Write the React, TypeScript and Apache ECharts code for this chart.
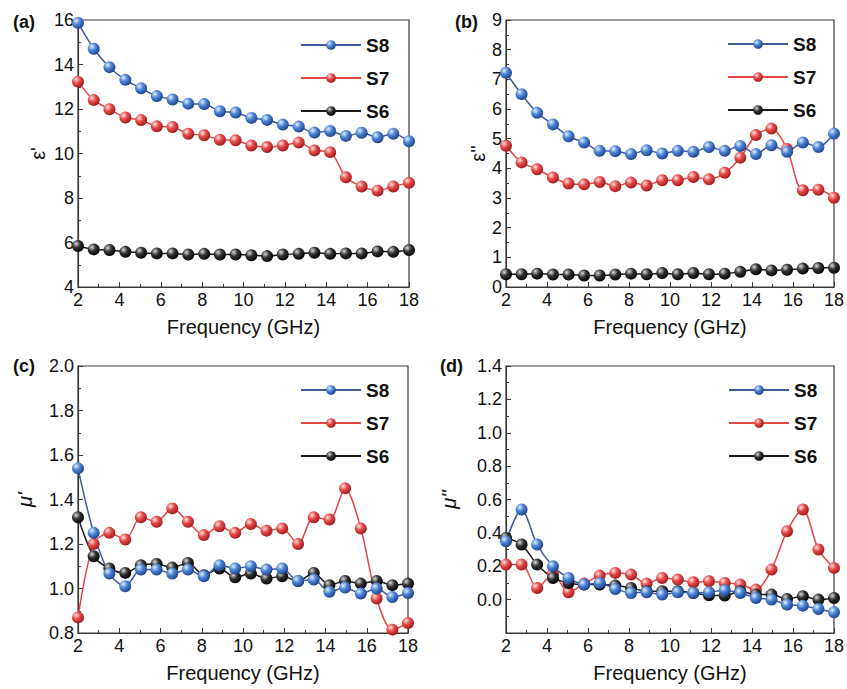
import React, { useEffect, useRef } from "react";
import * as echarts from "echarts";

const freq = [2, 2.76, 3.52, 4.29, 5.05, 5.81, 6.57, 7.33, 8.1, 8.86, 9.62, 10.38, 11.14, 11.9, 12.67, 13.43, 14.19, 14.95, 15.71, 16.48, 17.24, 18];

// (a) epsilon'
const epsRealS8 = [15.87, 14.71, 13.88, 13.31, 12.93, 12.58, 12.43, 12.24, 12.22, 11.9, 11.84, 11.6, 11.51, 11.3, 11.21, 10.94, 11.01, 10.79, 10.93, 10.73, 10.89, 10.55];
const epsRealS7 = [13.23, 12.4, 11.99, 11.62, 11.5, 11.22, 11.19, 10.89, 10.82, 10.62, 10.59, 10.36, 10.29, 10.36, 10.49, 10.14, 10.06, 8.93, 8.52, 8.33, 8.52, 8.68];
const epsRealS6 = [5.84, 5.69, 5.66, 5.58, 5.54, 5.51, 5.51, 5.46, 5.49, 5.46, 5.46, 5.43, 5.39, 5.46, 5.49, 5.54, 5.49, 5.51, 5.51, 5.6, 5.58, 5.66];

// (b) epsilon''
const epsImagS8 = [7.22, 6.5, 5.87, 5.48, 5.08, 4.87, 4.59, 4.58, 4.48, 4.61, 4.5, 4.59, 4.56, 4.72, 4.59, 4.75, 4.48, 4.78, 4.56, 4.87, 4.72, 5.17];
const epsImagS7 = [4.76, 4.2, 3.97, 3.69, 3.49, 3.46, 3.54, 3.4, 3.52, 3.42, 3.6, 3.6, 3.71, 3.63, 3.85, 4.36, 5.12, 5.34, 4.65, 3.26, 3.28, 3.01];
const epsImagS6 = [0.43, 0.43, 0.45, 0.42, 0.42, 0.39, 0.39, 0.42, 0.45, 0.43, 0.47, 0.43, 0.47, 0.43, 0.45, 0.51, 0.6, 0.56, 0.58, 0.62, 0.64, 0.65];

// (c) mu'
const muRealS8 = [1.54, 1.25, 1.067, 1.01, 1.085, 1.085, 1.067, 1.085, 1.055, 1.105, 1.09, 1.1, 1.085, 1.09, 1.034, 1.04, 0.985, 1.004, 0.977, 1.0, 0.962, 0.98];
const muRealS7 = [0.87, 1.2, 1.25, 1.22, 1.32, 1.3, 1.36, 1.3, 1.24, 1.28, 1.25, 1.29, 1.26, 1.27, 1.2, 1.32, 1.31, 1.45, 1.27, 0.955, 0.815, 0.845];
const muRealS6 = [1.32, 1.145, 1.09, 1.07, 1.105, 1.11, 1.094, 1.115, 1.06, 1.09, 1.05, 1.067, 1.045, 1.055, 1.034, 1.07, 1.015, 1.034, 1.022, 1.034, 1.015, 1.022];

// (d) mu''
const muImagS8 = [0.35, 0.54, 0.33, 0.2, 0.13, 0.09, 0.1, 0.064, 0.04, 0.044, 0.03, 0.044, 0.04, 0.044, 0.056, 0.04, 0.01, 0.0, -0.03, -0.036, -0.056, -0.076];
const muImagS7 = [0.21, 0.21, 0.07, 0.154, 0.044, 0.096, 0.144, 0.16, 0.15, 0.096, 0.13, 0.12, 0.104, 0.11, 0.1, 0.09, 0.06, 0.18, 0.41, 0.54, 0.3, 0.19];
const muImagS6 = [0.37, 0.33, 0.21, 0.13, 0.1, 0.09, 0.09, 0.084, 0.07, 0.05, 0.05, 0.05, 0.04, 0.026, 0.024, 0.05, 0.03, 0.03, 0.004, 0.02, 0.0, 0.01];

const sampleNames = ["S8", "S7", "S6"];
const panelLabels = ["(a)", "(b)", "(c)", "(d)"];
const yNames = ["ε'", "ε''", "μ'", "μ''"];
const xName = "Frequency (GHz)";

const FONT = "'Liberation Sans', Arial, sans-serif";

const sphere = (light: string, mid: string, dark: string) =>
  new echarts.graphic.RadialGradient(0.35, 0.32, 0.72, [
    { offset: 0, color: light },
    { offset: 0.45, color: mid },
    { offset: 1, color: dark },
  ]);

const styles: Record<string, { line: string; fill: any }> = {
  S8: { line: "#3f5aa3", fill: sphere("#e4eefc", "#4a84d6", "#1c3f88") },
  S7: { line: "#e04848", fill: sphere("#ffe4e4", "#e64848", "#9a1a1a") },
  S6: { line: "#1a1a1a", fill: sphere("#d8d8d8", "#333333", "#000000") },
};

const panelData: Record<string, number[]>[] = [
  { S8: epsRealS8, S7: epsRealS7, S6: epsRealS6 },
  { S8: epsImagS8, S7: epsImagS7, S6: epsImagS6 },
  { S8: muRealS8, S7: muRealS7, S6: muRealS6 },
  { S8: muImagS8, S7: muImagS7, S6: muImagS6 },
];

const grids = [
  { left: 78, top: 20, width: 331, height: 267 },
  { left: 506, top: 20, width: 331, height: 267 },
  { left: 78, top: 366, width: 330, height: 267 },
  { left: 506, top: 366, width: 331, height: 267 },
];

const yRanges = [
  { min: 4, max: 16, interval: 2, dec: 0, gap: 30, italic: false },
  { min: 0, max: 9, interval: 1, dec: 0, gap: 14, italic: false },
  { min: 0.8, max: 2.0, interval: 0.2, dec: 1, gap: 43, italic: true },
  { min: -0.2, max: 1.4, interval: 0.2, dec: 1, gap: 47, italic: true },
];

const legendPos = [
  { left: 295, top: 30 },
  { left: 722, top: 29 },
  { left: 295, top: 375 },
  { left: 723, top: 375 },
];

const labelPos = [
  { x: 13, y: 22 },
  { x: 455, y: 22 },
  { x: 13, y: 366 },
  { x: 440, y: 366 },
];

export default function App() {
  const ref = useRef<HTMLDivElement>(null);
  useEffect(() => {
    if (!ref.current) return;
    const chart = echarts.init(ref.current, undefined, { renderer: "svg" });
    const axisColor = "#3a3a3a";
    const xAxes = grids.map((_, i) => ({
      type: "value",
      gridIndex: i,
      min: 2,
      max: 18,
      interval: 2,
      name: xName,
      nameLocation: "middle",
      nameGap: 30,
      nameTextStyle: { fontFamily: FONT, fontSize: 20, color: "#111" },
      axisLine: { show: true, onZero: false, lineStyle: { color: axisColor, width: 1.2 } },
      axisTick: { show: true, inside: true, length: 5, lineStyle: { color: axisColor } },
      minorTick: { show: true, splitNumber: 2, length: 3, lineStyle: { color: axisColor } },
      axisLabel: { fontFamily: FONT, fontSize: 18, color: "#111", margin: 4 },
      splitLine: { show: false },
    }));
    const yAxes = grids.map((_, i) => {
      const r = yRanges[i];
      return {
        type: "value",
        gridIndex: i,
        min: r.min,
        max: r.max,
        interval: r.interval,
        name: yNames[i],
        nameLocation: "middle",
        nameGap: r.gap,
        nameTextStyle: {
          fontFamily: FONT,
          fontSize: 20,
          color: "#111",
          fontStyle: r.italic ? "italic" : "normal",
        },
        axisLine: { show: true, onZero: false, lineStyle: { color: axisColor, width: 1.2 } },
        axisTick: { show: true, inside: true, length: 5, lineStyle: { color: axisColor } },
        minorTick: { show: true, splitNumber: 2, length: 3, lineStyle: { color: axisColor } },
        axisLabel: {
          fontFamily: FONT,
          fontSize: 18,
          color: "#111",
          margin: 4,
          showMinLabel: i !== 3,
          formatter: (v: number) => v.toFixed(r.dec),
        },
        splitLine: { show: false },
      };
    });
    const series: any[] = [];
    grids.forEach((_, i) => {
      ["S7", "S6", "S8"].forEach((name) => {
        const st = styles[name];
        series.push({
          type: "line",
          name,
          xAxisIndex: i,
          yAxisIndex: i,
          data: freq.map((f, k) => [f, panelData[i][name][k]]),
          smooth: 0.3,
          symbol: "circle",
          symbolSize: 12,
          showSymbol: true,
          lineStyle: { color: st.line, width: 1.5 },
          itemStyle: { color: st.fill, borderWidth: 0 },
          clip: true,
        });
      });
    });
    const legends = legendPos.map((p) => ({
      orient: "vertical",
      left: p.left,
      top: p.top,
      data: sampleNames,
      itemWidth: 60,
      itemHeight: 12,
      itemGap: 13,
      textStyle: { fontFamily: FONT, fontSize: 19, fontWeight: "bold", color: "#111", lineHeight: 20 },
      selectedMode: false,
    }));
    const graphic = labelPos.map((p, i) => ({
      type: "text",
      x: p.x,
      y: p.y,
      style: {
        text: panelLabels[i],
        font: `bold 18px ${FONT}`,
        fill: "#111",
        verticalAlign: "middle",
      },
    }));
    chart.setOption({
      animation: false,
      backgroundColor: "#fff",
      grid: grids.map((g) => ({ ...g, show: true, borderColor: axisColor, borderWidth: 1.2, backgroundColor: "transparent" })),
      xAxis: xAxes,
      yAxis: yAxes,
      legend: legends,
      series,
      graphic,
    });
    return () => chart.dispose();
  }, []);
  return <div ref={ref} style={{ position: "fixed", left: 0, top: 0, width: 847, height: 689 }} />;
}
